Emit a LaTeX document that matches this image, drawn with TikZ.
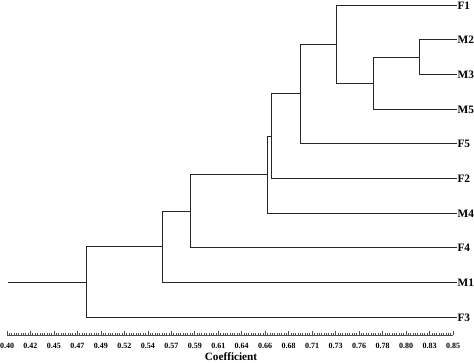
\documentclass[tikz,border=0pt]{standalone}
\usepackage{fontspec}
\setmainfont{Liberation Serif}
\usetikzlibrary{calc}

\begin{document}
\begin{tikzpicture}[x=0.75pt, y=-0.75pt,
  branch/.style={black!85, line width=1.05pt},
  axisline/.style={black!70, line width=0.5pt},
  leaf/.style={anchor=west, inner sep=0.6pt, font=\fontsize{8.5}{10}\selectfont\bfseries},
  ticklab/.style={inner sep=0pt, font=\fontsize{6}{7}\selectfont\bfseries},
  axislab/.style={inner sep=0pt, font=\fontsize{8.4}{10}\selectfont\bfseries}]

  \useasboundingbox (0,0) rectangle (474,363);

  % leaves, top to bottom
  \foreach \lab/\y in {F1/5.5,M2/39.5,M3/74.5,M5/109.5,F5/143.5,
                       F2/178.5,M4/213.5,F4/247.5,M1/282.5,F3/317.5}
    \node[leaf] (\lab) at (456.5,\y) {\lab};

  % merge points (x from coefficient, y half way between children)
  \coordinate (a) at (419.5,57.5);
  \coordinate (b) at (373.5,83.5);
  \coordinate (c) at (336.5,44.5);
  \coordinate (d) at (300.5,93.5);
  \coordinate (e) at (271.5,136.5);
  \coordinate (f) at (267.5,174.5);
  \coordinate (g) at (190.5,211.5);
  \coordinate (h) at (162.5,246.5);
  \coordinate (root) at (86.5,282.5);
  \coordinate (stem) at (8,282.5);

  % branches
  \draw[branch] (M2.west) -| (a) |- (M3.west);
  \draw[branch] (a) -| (b) |- (M5.west);
  \draw[branch] (F1.west) -| (c) |- (b);
  \draw[branch] (c) -| (d) |- (F5.west);
  \draw[branch] (d) -| (e) |- (F2.west);
  \draw[branch] (e) -| (f) |- (M4.west);
  \draw[branch] (f) -| (g) |- (F4.west);
  \draw[branch] (g) -| (h) |- (M1.west);
  \draw[branch] (h) -| (root) |- (F3.west);
  \draw[branch] (stem) -- (root);

  % coefficient axis
  \coordinate (ax0) at (7,335);
  \coordinate (ax1) at (453,335);
  \draw[axisline] (ax0) -- (ax1);
  \foreach \k in {0,...,190}
    \draw[axisline] ($(ax0)!\k/190!(ax1)$) -- ++(0,-2.2);
  \foreach \k in {0,...,19}
    \draw[axisline] ($(ax0)!\k/19!(ax1)$) -- ++(0,-4);
  \foreach \v [count=\i from 0] in {0.40,0.42,0.45,0.47,0.49,0.52,0.54,0.57,0.59,0.61,
                                    0.64,0.66,0.68,0.71,0.73,0.76,0.78,0.80,0.83,0.85}
    \node[ticklab] (t\i) at ($(ax0)!\i/19!(ax1) + (0,10.5)$) {\v};
  \node[axislab] (coef) at (231,357) {Coefficient};
\end{tikzpicture}
\end{document}
